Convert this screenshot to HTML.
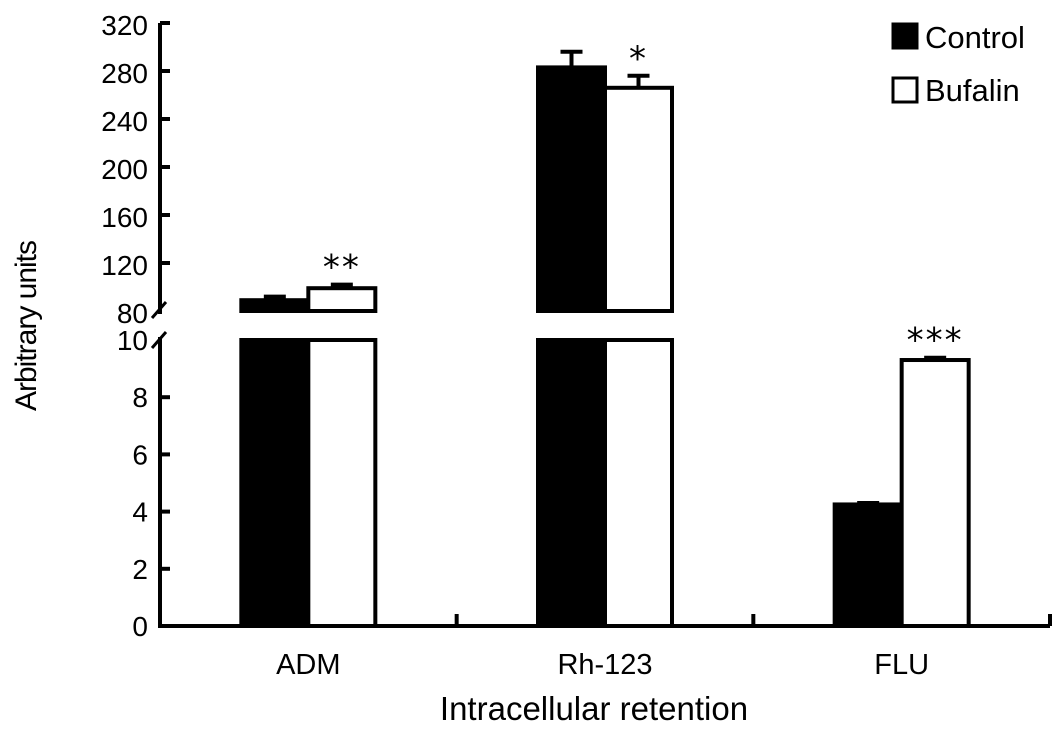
<!DOCTYPE html>
<html><head><meta charset="utf-8"><style>
body{margin:0;background:#fff}
svg{display:block;font-family:"Liberation Sans",Arial,sans-serif}
</style></head><body>
<svg id="c" width="1063" height="736"></svg>
<script>
const categories=["ADM","Rh-123","FLU"];
const controlValues=[89,283,4.25];
const bufalinValues=[99,266,9.3];
const controlErr=[3,13,0.05];
const bufalinErr=[3,10,0.08];
const stars=["**","*","***"];
const upperTicks=[80,120,160,200,240,280,320];
const lowerTicks=[0,2,4,6,8,10];
const svg=document.getElementById('c');const NS='http://www.w3.org/2000/svg';
function el(t,a,p){const e=document.createElementNS(NS,t);for(const k in a)e.setAttribute(k,a[k]);(p||svg).appendChild(e);return e;}
const X0=160,X1=1050,groupW=(X1-X0)/3,barW=67;
function yU(v){return 311-(v-80)*(311-23)/240;}
function yL(v){return 626-v*(626-340)/10;}
function yVal(v){return v>10?yU(v):yL(v);}
function gx(i){return X0+groupW*(i+0.5);}
let a=el('line',{x1:X0,y1:23,x2:X0,y2:314,stroke:'#000','stroke-width':4});

a=el('line',{x1:X0,y1:337,x2:X0,y2:628,stroke:'#000','stroke-width':4});

a=el('line',{x1:X0,y1:626,x2:X1,y2:626,stroke:'#000','stroke-width':4});

el('line',{x1:X0-8,y1:318,x2:X0+6,y2:302,stroke:'#000','stroke-width':3});
el('line',{x1:X0-8,y1:348,x2:X0+6,y2:332,stroke:'#000','stroke-width':3});
upperTicks.forEach(v=>{const y=yU(v);
 if(v>80)el('line',{x1:X0,y1:y,x2:X0+10,y2:y,stroke:'#000','stroke-width':4});
 const t=el('text',{x:X0-12,y:y+12,'text-anchor':'end','font-size':28});t.textContent=v;
 });
lowerTicks.forEach(v=>{const y=yL(v);
 if(v>0&&v<10)el('line',{x1:X0,y1:y,x2:X0+10,y2:y,stroke:'#000','stroke-width':4});
 const t=el('text',{x:X0-12,y:y+10,'text-anchor':'end','font-size':28});t.textContent=v;
 });
for(let i=1;i<=3;i++){const x=X0+groupW*i;el('line',{x1:x,y1:626,x2:x,y2:614,stroke:'#000','stroke-width':4});}
function bar(i,v,e,fill,off,name){
 const x=gx(i)+off, top=yVal(v);
 if(v>10){
  let r=el('rect',{x:x,y:top,width:barW,height:311-top,fill:fill,stroke:'#000','stroke-width':4});
  
  r=el('rect',{x:x,y:340,width:barW,height:286,fill:fill,stroke:'#000','stroke-width':4});
  
 }else{
  const r=el('rect',{x:x,y:top,width:barW,height:626-top,fill:fill,stroke:'#000','stroke-width':4});
  
 }
 const cx=x+barW/2,ey=yVal(v+e);
 el('line',{x1:cx,y1:top,x2:cx,y2:ey,stroke:'#000','stroke-width':4});
 el('line',{x1:cx-11,y1:ey,x2:cx+11,y2:ey,stroke:'#000','stroke-width':4});
 return ey;
}
categories.forEach((c,i)=>{
 bar(i,controlValues[i],controlErr[i],'#000',-barW,'bar-control-'+c.toLowerCase());
 const ey=bar(i,bufalinValues[i],bufalinErr[i],'#fff',0,'bar-bufalin-'+c.toLowerCase());
 const s=el('text',{x:gx(i)+barW/2,y:ey-6,'text-anchor':'middle','font-size':34,'font-family':'DejaVu Sans','letter-spacing':'2'});s.textContent=stars[i];
 
 const t=el('text',{x:gx(i),y:674,'text-anchor':'middle','font-size':29});t.textContent=c;
 
});
let t=el('text',{x:594,y:720,'text-anchor':'middle','font-size':33});t.textContent='Intracellular retention';

t=el('text',{x:0,y:0,'text-anchor':'middle','font-size':30,transform:'translate(36,326) rotate(-90)','letter-spacing':'-1'});t.textContent='Arbitrary units';

const lg=el('g',{});
el('rect',{x:893,y:24,width:24,height:24,fill:'#000',stroke:'#000','stroke-width':3},lg);
t=el('text',{x:925,y:48,'font-size':31},lg);t.textContent='Control';

el('rect',{x:893,y:78,width:24,height:24,fill:'#fff',stroke:'#000','stroke-width':3},lg);
t=el('text',{x:925,y:101,'font-size':31},lg);t.textContent='Bufalin';

</script>
</body></html>
